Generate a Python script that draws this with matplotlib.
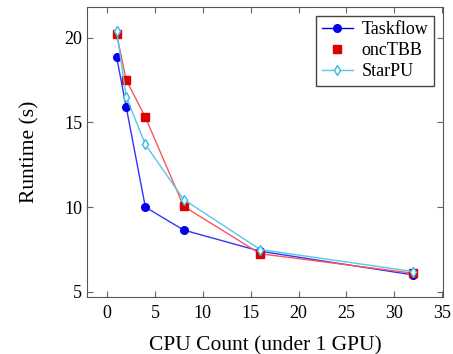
import matplotlib.pyplot as plt
from matplotlib.lines import Line2D

cpus = [1, 2, 4, 8, 16, 32]
taskflow = [18.85, 15.9, 10.0, 8.65, 7.4, 6.0]
onetbb = [20.2, 17.5, 15.3, 10.05, 7.25, 6.1]
starpu = [20.4, 16.5, 13.7, 10.45, 7.5, 6.2]

plt.rcParams['font.family'] = ['Liberation Serif', 'DejaVu Serif']

fig = plt.figure(figsize=(4.53, 3.54), dpi=100)
ax = fig.add_axes([0.192, 0.161, 0.786, 0.819])

ax.plot(cpus, taskflow, color='#3333ff', lw=1.0, marker='o', ms=5.5,
        mfc='#0000ee', mec='#0000ee')
ax.plot(cpus, onetbb, color='#ff5555', lw=1.0, marker='s', ms=5.5,
        mfc='#dd0000', mec='#dd0000')
ax.plot(cpus, starpu, color='#55c8e8', lw=1.0, marker='d', ms=5,
        mfc='white', mec='#33bbe0', mew=1.0)

ax.set_xlim(-2.1, 35.1)
ax.set_ylim(4.7, 21.8)
ax.set_xticks([0, 5, 10, 15, 20, 25, 30, 35])
ax.set_yticks([5, 10, 15, 20])
ax.tick_params(direction='in', top=True, right=True, labelsize=13, length=4,
               color='#666666')
ax.tick_params(axis='x', pad=6)
for s in ax.spines.values():
    s.set_color('#555555')
    s.set_linewidth(0.8)

ax.set_xlabel('CPU Count (under 1 GPU)', fontsize=15.5, labelpad=10)
ax.set_ylabel('Runtime (s)', fontsize=15.5, labelpad=18)

handles = [
    Line2D([], [], color='#0000ee', lw=1.0, marker='o', ms=5.5),
    Line2D([], [], color='none', marker='s', ms=5.5, mfc='#dd0000', mec='#dd0000'),
    Line2D([], [], color='#55c8e8', lw=1.0, marker='d', ms=5, mfc='white', mec='#33bbe0'),
]
ax.legend(handles, ['Taskflow', 'oncTBB', 'StarPU'], loc='upper right',
          fontsize=13, fancybox=False, edgecolor='#444444', framealpha=1,
          handlelength=1.7, handletextpad=0.5, borderpad=0.3,
          labelspacing=0.22, borderaxespad=0,
          bbox_to_anchor=(0.974, 0.969))

fig.savefig('out.png', dpi=100)
